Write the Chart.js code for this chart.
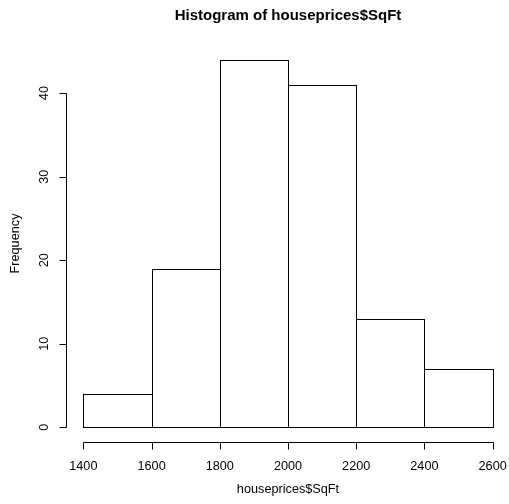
<!DOCTYPE html>
<html>
<head>
<meta charset="utf-8">
<script src="https://cdn.jsdelivr.net/npm/chart.js@4/dist/chart.umd.min.js"></script>
<style>
  html, body { margin: 0; padding: 0; background: #ffffff; }
  canvas { display: block; }
</style>
</head>
<body>
<canvas id="c" width="509" height="504"></canvas>
<script>
// Data
const breaks = [1400, 1600, 1800, 2000, 2200, 2400, 2600];
const counts = [4, 19, 44, 41, 13, 7];
const xTicks = [1400, 1600, 1800, 2000, 2200, 2400, 2600];
const yTicks = [0, 10, 20, 30, 40];
const titleText = 'Histogram of houseprices$SqFt';
const xLabel = 'houseprices$SqFt';
const yLabel = 'Frequency';

const barData = counts.map((c, i) => ({ x: (breaks[i] + breaks[i + 1]) / 2, y: c }));

const FONT = '"Liberation Sans", Arial, Helvetica, sans-serif';

const rAxes = {
  id: 'rAxes',
  afterDraw(chart) {
    const ctx = chart.ctx;
    const xs = chart.scales.x, ys = chart.scales.y;
    const area = chart.chartArea;
    ctx.save();
    ctx.strokeStyle = '#000';
    ctx.fillStyle = '#000';
    ctx.lineWidth = 1;

    // bar outlines (shared edges overlap exactly)
    const meta = chart.getDatasetMeta(0);
    meta.data.forEach(el => {
      const l = Math.round(el.x - el.width / 2) + 0.5;
      const r = Math.round(el.x + el.width / 2) + 0.5;
      const t = Math.round(el.y) + 0.5;
      const b = Math.round(el.base) + 0.5;
      ctx.strokeRect(l, t, r - l, b - t);
    });

    // x axis
    const xAxisY = Math.round(area.bottom) + 0.5;
    const x0 = Math.round(xs.getPixelForValue(xTicks[0])) + 0.5;
    const x1 = Math.round(xs.getPixelForValue(xTicks[xTicks.length - 1])) + 0.5;
    ctx.beginPath();
    ctx.moveTo(x0, xAxisY); ctx.lineTo(x1, xAxisY);
    xTicks.forEach(v => {
      const px = Math.round(xs.getPixelForValue(v)) + 0.5;
      ctx.moveTo(px, xAxisY); ctx.lineTo(px, xAxisY + 7);
    });
    ctx.stroke();
    ctx.font = '12.7px ' + FONT;
    ctx.textAlign = 'center';
    ctx.textBaseline = 'middle';
    xTicks.forEach(v => {
      ctx.fillText(String(v), xs.getPixelForValue(v), 466);
    });

    // y axis
    const yAxisX = Math.round(area.left) - 0.5;
    const y0 = Math.round(ys.getPixelForValue(yTicks[0])) + 0.5;
    const y1 = Math.round(ys.getPixelForValue(yTicks[yTicks.length - 1])) + 0.5;
    ctx.beginPath();
    ctx.moveTo(yAxisX, y0); ctx.lineTo(yAxisX, y1);
    yTicks.forEach(v => {
      const py = Math.round(ys.getPixelForValue(v)) + 0.5;
      ctx.moveTo(yAxisX, py); ctx.lineTo(yAxisX - 7, py);
    });
    ctx.stroke();
    yTicks.forEach(v => {
      ctx.save();
      ctx.translate(44, ys.getPixelForValue(v));
      ctx.rotate(-Math.PI / 2);
      ctx.fillText(String(v), 0, 0);
      ctx.restore();
    });

    // axis titles
    const cx = (area.left + area.right) / 2;
    const cy = (area.top + area.bottom) / 2;
    ctx.fillText(xLabel, cx, 489);
    ctx.save();
    ctx.translate(15, cy);
    ctx.rotate(-Math.PI / 2);
    ctx.fillText(yLabel, 0, 0);
    ctx.restore();

    // main title
    ctx.font = 'bold 15px ' + FONT;
    ctx.fillText(titleText, cx, 16);
    ctx.restore();
  }
};

new Chart(document.getElementById('c'), {
  type: 'bar',
  data: {
    datasets: [{
      data: barData,
      backgroundColor: '#ffffff',
      borderWidth: 0,
      barPercentage: 1,
      categoryPercentage: 1,
      inflateAmount: 0
    }]
  },
  options: {
    responsive: false,
    animation: false,
    devicePixelRatio: 1,
    layout: { padding: { left: 67, right: 0, top: 45, bottom: 62 } },
    plugins: { legend: { display: false }, title: { display: false }, tooltip: { enabled: false } },
    scales: {
      x: { type: 'linear', min: 1352, max: 2648, display: false, offset: false },
      y: { type: 'linear', min: -1.76, max: 45.76, display: false }
    }
  },
  plugins: [rAxes]
});
</script>
</body>
</html>
